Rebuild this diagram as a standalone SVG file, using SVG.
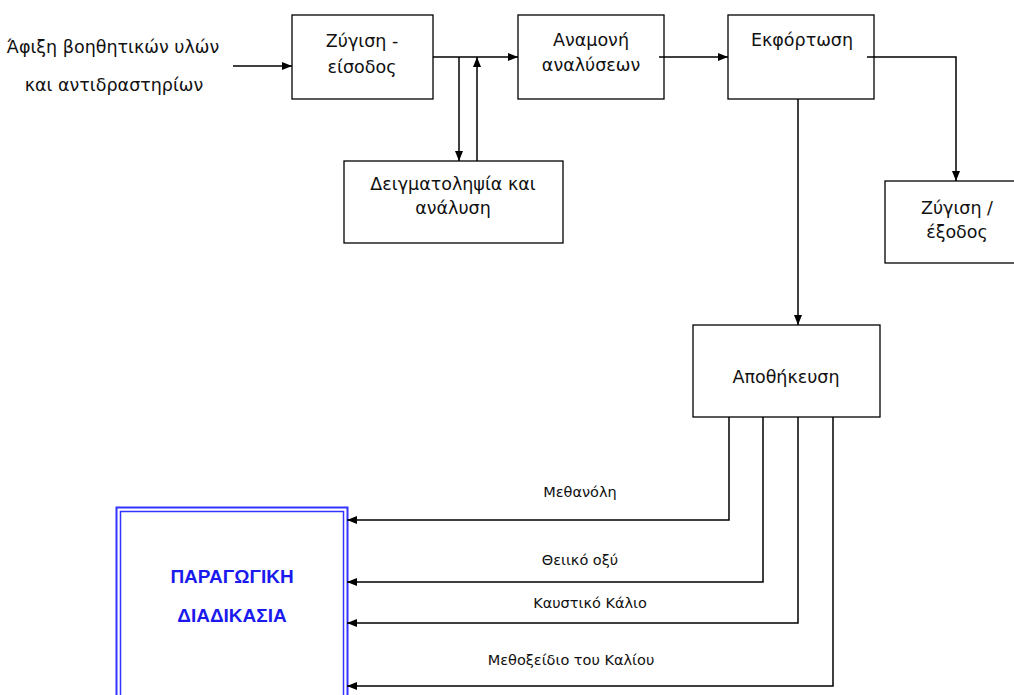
<svg xmlns="http://www.w3.org/2000/svg" width="1014" height="695" viewBox="0 0 1014 695">
<defs>
<marker id="ah" markerWidth="10" markerHeight="8" refX="10" refY="4" orient="auto" markerUnits="userSpaceOnUse">
<path d="M0,0 L10,4 L0,8 Z" fill="#000"/>
</marker>
<style>
.box{fill:#fff;stroke:#000;stroke-width:1.3}
.t{font-family:"DejaVu Sans",sans-serif;font-size:17.5px;fill:#111;text-anchor:middle}
.l{font-family:"DejaVu Sans",sans-serif;font-size:14.5px;fill:#111;text-anchor:middle}
.c{fill:none;stroke:#000;stroke-width:1.5;marker-end:url(#ah)}
.p{font-family:"Liberation Sans",Arial,sans-serif;font-size:19px;font-weight:bold;fill:#1a1aee;text-anchor:middle}
</style>
</defs>
<rect width="1014" height="695" fill="#fff"/>
<g id="input-label">
<text class="t" x="113" y="53">Άφιξη βοηθητικών υλών</text>
<text class="t" x="114" y="91">και αντιδραστηρίων</text>
</g>
<g id="zygisi-eisodos">
<rect class="box" x="292" y="15" width="141" height="84"/>
<text class="t" x="362" y="47">Ζύγιση -</text>
<text class="t" x="362" y="73">είσοδος</text>
</g>
<g id="anamoni">
<rect class="box" x="518" y="15" width="146" height="84"/>
<text class="t" x="591" y="46">Αναμονή</text>
<text class="t" x="591" y="71">αναλύσεων</text>
</g>
<g id="ekfortosi">
<rect class="box" x="728" y="15" width="146" height="84"/>
<text class="t" x="802" y="46">Εκφόρτωση</text>
</g>
<g id="deigmatolipsia">
<rect class="box" x="344" y="161" width="219" height="82"/>
<text class="t" x="453" y="190">Δειγματοληψία και</text>
<text class="t" x="453" y="214">ανάλυση</text>
</g>
<g id="zygisi-exodos">
<rect class="box" x="885" y="181" width="132" height="82"/>
<text class="t" x="957" y="214">Ζύγιση /</text>
<text class="t" x="957" y="238">έξοδος</text>
</g>
<g id="apothikeusi">
<rect class="box" x="693" y="325" width="187" height="92"/>
<text class="t" x="786" y="383">Αποθήκευση</text>
</g>
<g id="paragogiki">
<rect x="116.5" y="507.5" width="231" height="195" fill="#fff" stroke="#3333ff" stroke-width="2"/>
<rect x="120.5" y="511.5" width="223" height="190" fill="none" stroke="#3333ff" stroke-width="1.5"/>
<text class="p" x="232" y="583">ΠΑΡΑΓΩΓΙΚΗ</text>
<text class="p" x="232" y="622">ΔΙΑΔΙΚΑΣΙΑ</text>
</g>
<g id="connectors">
<path class="c" d="M233,66 L292,66"/>
<path class="c" d="M433,57 L518,57"/>
<path class="c" d="M459,57 L459,161"/>
<path class="c" d="M477,161 L477,57"/>
<path class="c" d="M659,57 L728,57"/>
<path class="c" d="M867,57 L956,57 L956,181"/>
<path class="c" d="M798,99 L798,325"/>
<path class="c" d="M729,417 L729,520 L347,520"/>
<path class="c" d="M763,417 L763,582 L347,582"/>
<path class="c" d="M798,417 L798,623 L347,623"/>
<path class="c" d="M833,417 L833,686 L347,686"/>
<text class="l" x="580" y="497">Μεθανόλη</text>
<text class="l" x="580" y="565">Θειικό οξύ</text>
<text class="l" x="590" y="608">Καυστικό Κάλιο</text>
<text class="l" x="571" y="665">Μεθοξείδιο του Καλίου</text>
</g>
</svg>
